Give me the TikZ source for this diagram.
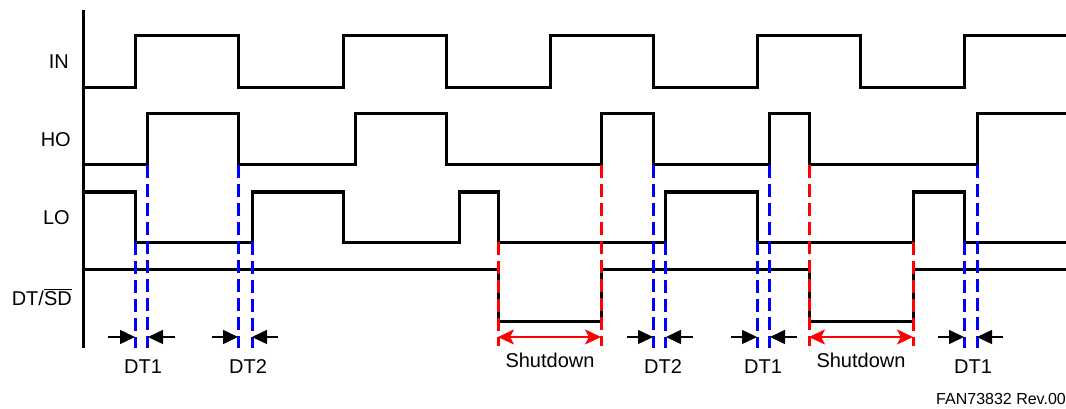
\documentclass[tikz,border=0pt]{standalone}
\usepackage{fontspec}
\setmainfont{Liberation Sans}
\usetikzlibrary{arrows.meta}
\begin{document}
\begin{tikzpicture}[x=1pt,y=-1pt,
  wave/.style={line width=3pt,line join=miter,black},
  blu/.style={line width=3pt,blue,dash pattern=on 13pt off 6pt},
  rdd/.style={line width=3pt,red,dash pattern=on 13pt off 6pt},
  dtarr/.style={line width=1.5pt,-{Triangle[length=15pt,width=14pt]}},
  sdarr/.style={line width=2pt,red,{Stealth[length=16pt,width=15pt,inset=4pt]}-{Stealth[length=16pt,width=15pt,inset=4pt]}},
  lbl/.style={font=\fontsize{20}{24}\selectfont,inner sep=0pt},
  sig/.style={font=\fontsize{20}{24}\selectfont,inner sep=0pt,anchor=base east}]
\useasboundingbox (0,0) rectangle (1066,409);
% axis
\draw[line width=3pt] (83,10) -- (83,348);
% signal names
\node[sig] (nIN) at (69,69) {IN};
\node[sig] (nHO) at (71,147) {HO};
\node[sig] (nLO) at (70,224) {LO};
\node[sig] (nDT) at (72,305) {DT/$\overline{\hbox{SD}}$};
% waveforms
\draw[wave] (83,88) -- (135,88) -- (135,36) -- (238,36) -- (238,88) -- (343,88) -- (343,36) -- (446,36) -- (446,88) -- (550,88) -- (550,36) -- (653,36) -- (653,88) -- (757,88) -- (757,36) -- (860,36) -- (860,88) -- (964,88) -- (964,36) -- (1066,36);
\draw[wave] (83,165) -- (147,165) -- (147,114) -- (238,114) -- (238,165) -- (355,165) -- (355,114) -- (446,114) -- (446,165) -- (601,165) -- (601,114) -- (653,114) -- (653,165) -- (769,165) -- (769,114) -- (809,114) -- (809,165) -- (977,165) -- (977,114) -- (1066,114);
\draw[wave] (83,192) -- (135,192) -- (135,242) -- (252,242) -- (252,192) -- (343,192) -- (343,242) -- (459,242) -- (459,192) -- (498,192) -- (498,242) -- (665,242) -- (665,192) -- (757,192) -- (757,242) -- (913,242) -- (913,192) -- (964,192) -- (964,242) -- (1066,242);
\draw[wave] (83,269) -- (498,269) -- (498,321) -- (601,321) -- (601,269) -- (809,269) -- (809,321) -- (913,321) -- (913,269) -- (1066,269);
% dashed markers
\foreach \x in {135,252,665,757,964} \draw[blu] (\x,242) -- (\x,348);
\foreach \x in {147,238,653,769,977} \draw[blu] (\x,165) -- (\x,348);
\foreach \x in {498,913} \draw[rdd] (\x,242) -- (\x,346);
\foreach \x in {601,809} \draw[rdd] (\x,165) -- (\x,346);
% named arrow ends
\foreach \n/\x in {a/108,b/135,c/148,d/175,e/212,f/238,g/252,h/278,i/627,j/653,k/666,l/693,m/731,n/757,o/770,p/797,q/938,r/964,s/977,t/1003,u/498,v/601,w/809,z/913}
  \coordinate (\n) at (\x,337);
\draw[dtarr] (a) -- (b);
\draw[dtarr] (d) -- (c);
\draw[dtarr] (e) -- (f);
\draw[dtarr] (h) -- (g);
\draw[dtarr] (i) -- (j);
\draw[dtarr] (l) -- (k);
\draw[dtarr] (m) -- (n);
\draw[dtarr] (p) -- (o);
\draw[dtarr] (q) -- (r);
\draw[dtarr] (t) -- (s);
\draw[sdarr] (u) -- (v);
\draw[sdarr] (w) -- (z);
% labels
\node[lbl,anchor=base] (l1) at (143,373) {DT1};
\node[lbl,anchor=base] (l2) at (248,373) {DT2};
\node[lbl,anchor=base] (l3) at (550,367) {Shutdown};
\node[lbl,anchor=base] (l4) at (663,373) {DT2};
\node[lbl,anchor=base] (l5) at (763,373) {DT1};
\node[lbl,anchor=base] (l6) at (861,367) {Shutdown};
\node[lbl,anchor=base] (l7) at (973,373) {DT1};
\node[font=\fontsize{16}{19}\selectfont,inner sep=0pt,anchor=base east] (rev) at (1066,404) {FAN73832 Rev.00};
\end{tikzpicture}
\end{document}
